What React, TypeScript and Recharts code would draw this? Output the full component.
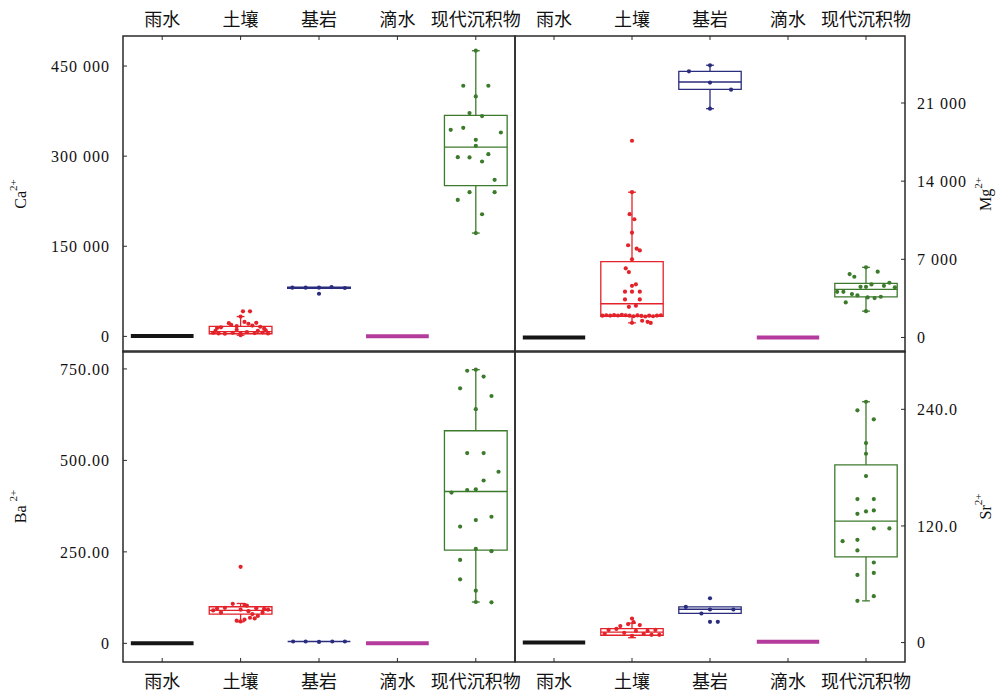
import React from "react";
import { ComposedChart, ReferenceArea, ReferenceLine, Scatter, XAxis, YAxis } from "recharts";

const CATEGORIES = ["雨水", "土壤", "基岩", "滴水", "现代沉积物"];
const COLORS = ["#151515", "#e3222a", "#2a2c7e", "#b43a9c", "#3c7a2c"];
const MEDIAN_WIDTH = [4, 1.3, 1.3, 4, 1.3];

type Pt = [number, number]; // [jitter offset within the band, value]

// Ca2+
const CA_TICKS = [0, 150000, 300000, 450000];
const CA_MIN = [800, 2000, 80000, 300, 172000];
const CA_Q1 = [800, 4400, 80000, 300, 251000];
const CA_MEDIAN = [800, 8000, 81000, 300, 315000];
const CA_Q3 = [800, 16700, 81800, 300, 368000];
const CA_MAX = [800, 33000, 81800, 300, 475500];
const CA_SOIL: Pt[] = [[0.03, 41700], [0.12, 41700], [0, 33000], [-0.15, 22000], [-0.12, 19000], [0.05, 24000], [0.1, 21000], [0.15, 18000], [0.2, 22500], [-0.05, 17000], [0.25, 16000], [-0.25, 15000], [-0.3, 14000], [0.3, 13000], [-0.35, 6000], [-0.28, 5000], [-0.2, 4500], [-0.1, 6000], [0, 5000], [0.08, 7000], [0.18, 5500], [0.28, 6500], [0.35, 5000], [-0.32, 9000], [0.32, 10000], [-0.05, 11000], [0.22, 9000], [0, 2000]];
const CA_ROCK: Pt[] = [[-0.34, 81000], [-0.17, 81000], [0, 81000], [0.16, 82000], [0.33, 80500], [0, 71000]];
const CA_SED: Pt[] = [[0, 475500], [-0.16, 417200], [0.16, 417200], [0, 399400], [-0.08, 371700], [0.08, 366700], [-0.32, 343900], [-0.16, 347200], [0.32, 339400], [0, 327200], [0, 317200], [-0.23, 298300], [-0.08, 297800], [0.16, 303300], [0.08, 291100], [0.24, 260600], [-0.08, 240000], [0.24, 240000], [-0.23, 227200], [0.08, 203300], [0, 172000]];

// Mg2+
const MG_TICKS = [0, 7000, 14000, 21000];
const MG_MIN = [0, 1310, 20490, 0, 2360];
const MG_Q1 = [0, 1885, 22220, 0, 3645];
const MG_MEDIAN = [0, 3020, 22880, 0, 4308];
const MG_Q3 = [0, 6790, 23840, 0, 4846];
const MG_MAX = [0, 13010, 24380, 0, 6280];
const MG_SOIL: Pt[] = [[0, 17620], [0, 13010], [-0.03, 11040], [0.03, 10590], [0, 9390], [-0.05, 8260], [0.06, 7950], [0.1, 7800], [0, 7000], [-0.08, 6190], [-0.04, 5860], [0, 4630], [0.05, 4760], [-0.09, 4100], [0, 4100], [0.1, 4100], [-0.09, 3410], [0.1, 3410], [-0.04, 2750], [0.05, 2840], [-0.38, 1950], [-0.33, 1990], [-0.28, 1960], [-0.23, 2010], [-0.18, 1970], [-0.13, 2030], [-0.08, 1990], [-0.03, 1950], [0.02, 1900], [0.07, 1980], [0.12, 1930], [0.17, 1880], [0.22, 1950], [0.27, 1900], [0.32, 1960], [0.37, 1990], [0.13, 1500], [0.2, 1400], [0.24, 1300], [0, 1310]];
const MG_ROCK: Pt[] = [[0, 24380], [-0.27, 23840], [0, 22830], [0.27, 22190], [0, 20490]];
const MG_SED: Pt[] = [[0, 6280], [-0.21, 5680], [-0.15, 5440], [0.15, 5890], [-0.07, 4540], [0, 4540], [0.07, 4750], [0.23, 4630], [0.3, 4900], [0.37, 4490], [-0.37, 4090], [-0.29, 4090], [-0.18, 3890], [-0.11, 3770], [0.02, 3590], [0.11, 3530], [0.19, 3650], [-0.26, 3140], [0, 2360]];

// Ba2+
const BA_TICKS = [0, 250, 500, 750];
const BA_MIN = [0, 59, 5, 0, 113];
const BA_Q1 = [0, 80, 5, 0, 255];
const BA_MEDIAN = [0, 90, 5, 0, 415];
const BA_Q3 = [0, 100, 5, 0, 581];
const BA_MAX = [0, 109, 5, 0, 748];
const BA_SOIL: Pt[] = [[0, 209], [-0.1, 108], [0.05, 105], [0.08, 103], [-0.3, 95], [-0.2, 97], [0.2, 96], [0.3, 94], [0.35, 92], [-0.35, 90], [0, 92], [0.1, 88], [0.15, 80], [0.22, 75], [0.12, 70], [0.05, 65], [-0.05, 62], [0, 60], [0.18, 68], [-0.25, 84], [0.28, 84]];
const BA_ROCK: Pt[] = [[-0.33, 5], [-0.17, 5], [0, 4], [0.17, 5], [0.33, 5]];
const BA_SED: Pt[] = [[0, 748], [-0.11, 745], [0.1, 729], [-0.2, 697], [0.2, 676], [0, 640], [-0.11, 520], [0.1, 520], [0.29, 469], [0.1, 445], [-0.31, 412], [-0.11, 419], [0, 421], [0.2, 346], [0, 337], [-0.2, 319], [0, 258], [0.2, 252], [-0.2, 228], [-0.2, 175], [0, 144], [0.2, 112], [0, 113]];

// Sr2+
const SR_TICKS = [0, 120, 240];
const SR_MIN = [0, 5, 30, 0.8, 42.9];
const SR_Q1 = [0, 7.5, 30, 0.8, 88.2];
const SR_MEDIAN = [0, 10.8, 34.3, 0.8, 125];
const SR_Q3 = [0, 14.4, 36.7, 0.8, 182.9];
const SR_MAX = [0, 20, 36.7, 0.8, 247.8];
const SR_SOIL: Pt[] = [[0, 24.7], [-0.15, 17], [-0.05, 19], [0.02, 21], [0.1, 18], [-0.3, 13], [0.3, 13], [-0.2, 14], [0.2, 12], [0.05, 12], [-0.1, 10], [0.15, 9], [0.25, 8], [-0.35, 9], [0.35, 8], [0, 7]];
const SR_ROCK: Pt[] = [[0, 45.6], [-0.31, 36.7], [-0.11, 29.9], [0, 34], [0.3, 34], [0, 21.3], [0.1, 21.3]];
const SR_SED: Pt[] = [[0, 247.8], [-0.11, 239], [0.1, 229.7], [0, 205.3], [0, 194.3], [0, 171.3], [-0.11, 147.6], [0.1, 147.6], [-0.11, 132.5], [0, 134.9], [0.1, 136], [0.1, 117.4], [0.3, 117.4], [-0.3, 104.3], [-0.11, 105.7], [-0.11, 94.8], [0.1, 82.4], [-0.11, 69.6], [0.1, 71.7], [0.1, 47.7], [-0.11, 42.9]];

const FONT = "'Liberation Serif', 'Times New Roman', 'Noto Sans CJK SC', serif";
const LINE = "#2a2a2a";
const HALF = 0.4;
const CAP = 0.05;

const spaced = (v: number) => String(v).replace(/\B(?=(\d{3})+(?!\d))/g, " ");
const fixed = (d: number) => (v: number) => (v === 0 ? "0" : v.toFixed(d));

interface PanelProps {
  left: number;
  top: number;
  width: number;
  height: number;
  side: "left" | "right";
  xSide: "top" | "bottom";
  domain: [number, number];
  ticks: number[];
  format: (v: number) => string;
  title: string;
  mins: number[];
  q1s: number[];
  medians: number[];
  q3s: number[];
  maxs: number[];
  points: Pt[][];
}

function Panel(p: PanelProps) {
  const titleContent = (props: any) => {
    const vb = props.viewBox || { x: 0, y: 0, width: 0, height: 0 };
    const cx = p.side === "left" ? vb.x + 20 : vb.x + 80;
    const cy = vb.y + vb.height / 2;
    return (
      <text
        x={cx}
        y={cy}
        transform={`rotate(-90, ${cx}, ${cy})`}
        textAnchor="middle"
        dominantBaseline="central"
        fontSize={16}
        fill="#111"
        fontFamily={FONT}
      >
        {p.title}
        <tspan dy={-7} fontSize={11}>2+</tspan>
      </text>
    );
  };

  return (
    <div style={{ position: "absolute", left: p.left, top: p.top }}>
      <ComposedChart width={p.width} height={p.height} margin={{ top: 0, right: 0, bottom: 0, left: 0 }}>
        <XAxis
          type="number"
          dataKey="x"
          domain={[0.5, 5.5]}
          ticks={[1, 2, 3, 4, 5]}
          interval={0}
          allowDataOverflow
          orientation={p.xSide}
          height={p.xSide === "top" ? 36 : 33}
          tickFormatter={(v: number) => CATEGORIES[v - 1]}
          tickSize={-4}
          tickMargin={p.xSide === "top" ? 14 : 17}
          axisLine={false}
          tickLine={{ stroke: LINE }}
          tick={{ fill: "#111", fontSize: 18, fontFamily: FONT }}
        />
        <YAxis
          type="number"
          dataKey="y"
          orientation={p.side}
          width={p.side === "left" ? 123 : 98}
          domain={p.domain}
          ticks={p.ticks}
          interval={0}
          allowDataOverflow
          tickFormatter={p.format}
          tickSize={-4}
          tickMargin={p.side === "left" ? 17 : 16}
          axisLine={false}
          tickLine={{ stroke: LINE }}
          tick={{ fill: "#111", fontSize: 16, fontFamily: FONT, letterSpacing: 1 }}
          label={{ content: titleContent }}
        />
        <ReferenceArea
          x1={0.5}
          x2={5.5}
          y1={p.domain[0]}
          y2={p.domain[1]}
          fill="none"
          stroke={LINE}
          strokeWidth={1.5}
          ifOverflow="visible"
        />
        {CATEGORIES.map((c, i) => {
          const x = i + 1;
          const color = COLORS[i];
          const out: React.ReactNode[] = [];
          if (p.q3s[i] > p.q1s[i]) {
            out.push(
              <ReferenceArea
                key={`box-${c}`}
                x1={x - HALF}
                x2={x + HALF}
                y1={p.q1s[i]}
                y2={p.q3s[i]}
                fill="none"
                fillOpacity={0}
                stroke={color}
                strokeWidth={1.3}
              />
            );
          }
          out.push(
            <ReferenceLine
              key={`med-${c}`}
              segment={[{ x: x - HALF, y: p.medians[i] }, { x: x + HALF, y: p.medians[i] }]}
              stroke={color}
              strokeWidth={MEDIAN_WIDTH[i]}
            />
          );
          if (p.maxs[i] > p.q3s[i]) {
            out.push(
              <ReferenceLine key={`wt-${c}`} segment={[{ x, y: p.q3s[i] }, { x, y: p.maxs[i] }]} stroke={color} strokeWidth={1.3} />,
              <ReferenceLine key={`ct-${c}`} segment={[{ x: x - CAP, y: p.maxs[i] }, { x: x + CAP, y: p.maxs[i] }]} stroke={color} strokeWidth={1.3} />
            );
          }
          if (p.mins[i] < p.q1s[i]) {
            out.push(
              <ReferenceLine key={`wb-${c}`} segment={[{ x, y: p.q1s[i] }, { x, y: p.mins[i] }]} stroke={color} strokeWidth={1.3} />,
              <ReferenceLine key={`cb-${c}`} segment={[{ x: x - CAP, y: p.mins[i] }, { x: x + CAP, y: p.mins[i] }]} stroke={color} strokeWidth={1.3} />
            );
          }
          return out;
        })}
        {p.points.map((pts, i) => (
          <Scatter
            key={`pts-${i}`}
            data={pts.map(([dx, v]) => ({ x: i + 1 + dx, y: v }))}
            fill={COLORS[i]}
            isAnimationActive={false}
            shape={(s: any) => <circle cx={s.cx} cy={s.cy} r={2.1} fill={COLORS[i]} />}
          />
        ))}
      </ComposedChart>
    </div>
  );
}

export default function App() {
  return (
    <div style={{ position: "absolute", left: 0, top: 0, width: 1003, height: 695, background: "#fff", fontFamily: FONT }}>
      <style>{`.recharts-surface { overflow: visible; } .recharts-wrapper { overflow: visible; }`}</style>
      <Panel
        left={0} top={0} width={515} height={352}
        side="left" xSide="top"
        domain={[-26000, 500000]} ticks={CA_TICKS} format={spaced} title="Ca"
        mins={CA_MIN} q1s={CA_Q1} medians={CA_MEDIAN} q3s={CA_Q3} maxs={CA_MAX}
        points={[[], CA_SOIL, CA_ROCK, [], CA_SED]}
      />
      <Panel
        left={515} top={0} width={488} height={352}
        side="right" xSide="top"
        domain={[-1300, 27000]} ticks={MG_TICKS} format={spaced} title="Mg"
        mins={MG_MIN} q1s={MG_Q1} medians={MG_MEDIAN} q3s={MG_Q3} maxs={MG_MAX}
        points={[[], MG_SOIL, MG_ROCK, [], MG_SED]}
      />
      <Panel
        left={0} top={351} width={515} height={344}
        side="left" xSide="bottom"
        domain={[-51, 799]} ticks={BA_TICKS} format={fixed(2)} title="Ba "
        mins={BA_MIN} q1s={BA_Q1} medians={BA_MEDIAN} q3s={BA_Q3} maxs={BA_MAX}
        points={[[], BA_SOIL, BA_ROCK, [], BA_SED]}
      />
      <Panel
        left={515} top={351} width={488} height={344}
        side="right" xSide="bottom"
        domain={[-20, 300]} ticks={SR_TICKS} format={fixed(1)} title="Sr"
        mins={SR_MIN} q1s={SR_Q1} medians={SR_MEDIAN} q3s={SR_Q3} maxs={SR_MAX}
        points={[[], SR_SOIL, SR_ROCK, [], SR_SED]}
      />
    </div>
  );
}
